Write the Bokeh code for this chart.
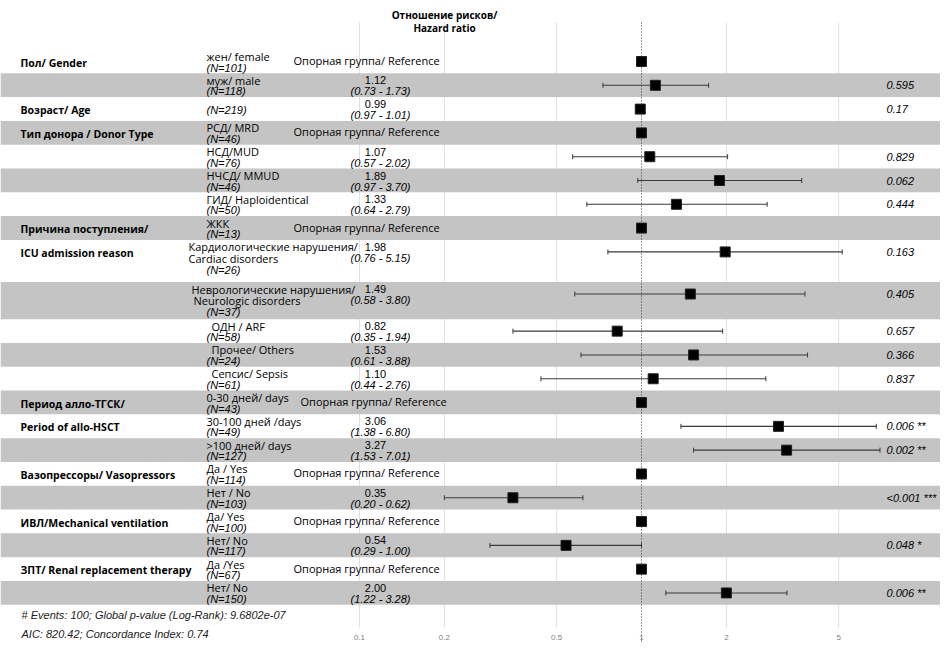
from bokeh.plotting import figure
from bokeh.models import Range1d, ColumnDataSource, FixedTicker, Label, LinearScale
from bokeh.core.properties import value
from bokeh.embed import file_html
from bokeh.resources import INLINE
import numpy as np

# ---------------- data ----------------
variables = ["Пол/ Gender", "", "Возраст/ Age", "Тип донора / Donor Type", "", "", "",
             "Причина поступления/", "ICU admission reason", "", "", "", "",
             "Период алло-ТГСК/", "Period of allo-HSCT", "",
             "Вазопрессоры/ Vasopressors", "", "ИВЛ/Mechanical ventilation", "",
             "ЗПТ/ Renal replacement therapy", ""]
levels = ["жен/ female", "муж/ male", "", "РСД/ MRD", "НСД/MUD", "НЧСД/ MMUD",
          "ГИД/ Haploidentical", "ЖКК",
          "Кардиологические нарушения/\nCardiac disorders",
          "Неврологические нарушения/\nNeurologic disorders",
          "ОДН / ARF", "Прочее/ Others", "Сепсис/ Sepsis",
          "0-30 дней/ days", "30-100 дней /days", ">100 дней/ days",
          "Да / Yes", "Нет / No", "Да/ Yes", "Нет/ No", "Да /Yes", "Нет/ No"]
n_obs = [101, 118, 219, 46, 76, 46, 50, 13, 26, 37, 58, 24, 61, 43, 49, 127,
         114, 103, 100, 117, 67, 150]
is_reference = [True, False, False, True, False, False, False, True, False, False,
                False, False, False, True, False, False, True, False, True, False,
                True, False]
hazard_ratio = [1.0, 1.12, 0.99, 1.0, 1.07, 1.89, 1.33, 1.0, 1.98, 1.49, 0.82, 1.53,
                1.10, 1.0, 3.06, 3.27, 1.0, 0.35, 1.0, 0.54, 1.0, 2.00]
ci_low = [np.nan, 0.73, 0.97, np.nan, 0.57, 0.97, 0.64, np.nan, 0.76, 0.58, 0.35,
          0.61, 0.44, np.nan, 1.38, 1.53, np.nan, 0.20, np.nan, 0.29, np.nan, 1.22]
ci_high = [np.nan, 1.73, 1.01, np.nan, 2.02, 3.70, 2.79, np.nan, 5.15, 3.80, 1.94,
           3.88, 2.76, np.nan, 6.80, 7.01, np.nan, 0.62, np.nan, 1.00, np.nan, 3.28]
p_values = ["", "0.595", "0.17", "", "0.829", "0.062", "0.444", "", "0.163", "0.405",
            "0.657", "0.366", "0.837", "", "0.006 **", "0.002 **", "", "<0.001 ***",
            "", "0.048 *", "", "0.006 **"]
tick_values = [0.1, 0.2, 0.5, 1, 2, 5]
tick_labels = ["0.1", "0.2", "0.5", "1", "2", "5"]
title_lines = ["Отношение рисков/", "Hazard ratio"]
footer_lines = ["# Events: 100; Global p-value (Log-Rank): 9.6802e-07",
                "AIC: 820.42; Concordance Index: 0.74"]
reference_text = "Опорная группа/ Reference"

# ---------------- layout ----------------
FW, FH = 940, 643            # frame size (pixels)
X_ONE, PX_DEC = 641, 282     # pixel of HR=1 and pixels per decade
ROW_H = 23.8
FIRST_TOP = 49
GRID_TOP, GRID_BOTTOM, DOT_BOTTOM = 22, 627, 641
row_mult = [1.0] * len(levels)
row_mult[8] = 1.77
row_mult[9] = 1.56

tops = []
t = FIRST_TOP
for m in row_mult:
    tops.append(t)
    t += ROW_H * m
heights = [ROW_H * m for m in row_mult]
mid = [tp + 12 for tp in tops]

SANS = "Open Sans"
ARIAL = "Liberation Sans"

p = figure(frame_width=FW, frame_height=FH, output_backend="svg", toolbar_location=None,
           x_axis_type="log",
           x_range=Range1d(10 ** ((0 - X_ONE) / PX_DEC), 10 ** ((FW - X_ONE) / PX_DEC)),
           y_range=Range1d(FH, 0),
           y_axis_location=None, min_border_left=0, min_border_right=0,
           min_border_top=0, min_border_bottom=0)
p.extra_x_ranges = {"px": Range1d(0, FW)}
p.extra_x_scales = {"px": LinearScale()}
p.outline_line_color = None
p.background_fill_color = "white"
p.border_fill_color = "white"
p.xgrid.visible = False
p.ygrid.visible = False

# axis (labels pulled up into the bottom of the frame)
ax = p.xaxis[0]
ax.ticker = FixedTicker(ticks=tick_values)
ax.major_label_overrides = {v: s for v, s in zip(tick_values, tick_labels)}
ax.axis_line_color = None
ax.major_tick_line_color = None
ax.minor_tick_line_color = None
ax.major_tick_out = 0
ax.major_tick_in = 0
ax.major_label_text_font = ARIAL
ax.major_label_text_font_size = "8px"
ax.major_label_text_color = "#808080"
ax.major_label_standoff = -9

# vertical grid lines at the tick values (drawn below the bands)
grid_x = [v for v in tick_values if v != 1]
p.segment(x0=grid_x, x1=grid_x, y0=[GRID_TOP] * len(grid_x), y1=[GRID_BOTTOM] * len(grid_x),
          line_color="#e0e0e0", line_width=1)

# bands
band_idx = [i for i in range(len(levels)) if i % 2 == 1]
band_src = ColumnDataSource(dict(
    top=[tops[i] for i in band_idx],
    bottom=[tops[i] + heights[i] for i in band_idx]))
p.quad(left=0, right=FW, top="top", bottom="bottom", source=band_src,
       x_range_name="px", fill_color="#c4c4c4", line_color=None)

# reference line at HR = 1
p.segment(x0=[1], x1=[1], y0=[GRID_TOP], y1=[DOT_BOTTOM], line_color="#333333",
          line_dash="1 2", line_width=1)

# whiskers
ci_idx = [i for i in range(len(levels)) if not is_reference[i]]
ci_src = ColumnDataSource(dict(
    lo=[ci_low[i] for i in ci_idx], hi=[ci_high[i] for i in ci_idx],
    y=[mid[i] for i in ci_idx]))
p.segment(x0="lo", x1="hi", y0="y", y1="y", source=ci_src, line_color="#3a3a3a", line_width=1.1)
p.scatter(x="lo", y="y", source=ci_src, marker="dash", angle=np.pi / 2, size=5,
          line_color="#3a3a3a", line_width=1)
p.scatter(x="hi", y="y", source=ci_src, marker="dash", angle=np.pi / 2, size=5,
          line_color="#3a3a3a", line_width=1)

# markers
pt_src = ColumnDataSource(dict(x=hazard_ratio, y=mid))
p.scatter(x="x", y="y", source=pt_src, marker="square", size=10,
          fill_color="black", line_color="#222222", line_width=1)

# ---------------- text columns ----------------
var_src = ColumnDataSource(dict(
    x=[20] * sum(1 for v in variables if v),
    y=[mid[i] + 1 for i, v in enumerate(variables) if v],
    text=[v for v in variables if v]))
p.text(x="x", y="y", text="text", source=var_src, x_range_name="px",
       text_font=value(SANS), text_font_style="bold", text_font_size="10.5px",
       text_baseline="middle", text_color="black")

level_x = {8: 188, 9: 191, 10: 211, 11: 211, 12: 211}
lx, ly, lt = [], [], []
nx, ny, nt = [], [], []
for i, lev in enumerate(levels):
    x = level_x.get(i, 206)
    if lev == "":
        nx.append(206); ny.append(mid[i] + 1); nt.append(f"(N={n_obs[i]})")
        continue
    lines = lev.split("\n")
    for k, ln in enumerate(lines):
        lx.append(x + (2 * k if i == 9 else 0)); ly.append(mid[i] - 5 + 11.5 * k); lt.append(ln)
    if len(lines) == 1:
        nx.append(206); ny.append(mid[i] + 6); nt.append(f"(N={n_obs[i]})")
    else:
        nx.append(206); ny.append(mid[i] + 18); nt.append(f"(N={n_obs[i]})")

p.text(x="x", y="y", text="text", source=ColumnDataSource(dict(x=lx, y=ly, text=lt)),
       x_range_name="px", text_font=value(SANS), text_font_size="11px",
       text_baseline="middle", text_color="black")
p.text(x="x", y="y", text="text", source=ColumnDataSource(dict(x=nx, y=ny, text=nt)),
       x_range_name="px", text_font=value(ARIAL), text_font_style="italic",
       text_font_size="11px", text_baseline="middle", text_color="black")

# reference labels
ref_src = ColumnDataSource(dict(
    x=[300 if i == 13 else 293 for i in range(len(levels)) if is_reference[i]],
    y=[mid[i] - 1 for i in range(len(levels)) if is_reference[i]],
    text=[reference_text] * sum(is_reference)))
p.text(x="x", y="y", text="text", source=ref_src, x_range_name="px",
       text_font=value(SANS), text_font_size="11px", text_baseline="middle")

# HR and CI
hr_src = ColumnDataSource(dict(
    x=[375] * len(ci_idx), y=[mid[i] - 5 for i in ci_idx],
    text=[f"{hazard_ratio[i]:.2f}" for i in ci_idx]))
p.text(x="x", y="y", text="text", source=hr_src, x_range_name="px",
       text_font=value(ARIAL), text_font_size="11px", text_baseline="middle",
       text_align="center")
ci_txt_src = ColumnDataSource(dict(
    x=[410] * len(ci_idx), y=[mid[i] + 6 for i in ci_idx],
    text=[f"({ci_low[i]:.2f} - {ci_high[i]:.2f})" for i in ci_idx]))
p.text(x="x", y="y", text="text", source=ci_txt_src, x_range_name="px",
       text_font=value(ARIAL), text_font_style="italic", text_font_size="11px",
       text_baseline="middle", text_align="right")

# p-values
pv_idx = [i for i in range(len(levels)) if p_values[i]]
pv_src = ColumnDataSource(dict(
    x=[886] * len(pv_idx),
    y=[mid[i] for i in pv_idx], text=[p_values[i] for i in pv_idx]))
p.text(x="x", y="y", text="text", source=pv_src, x_range_name="px",
       text_font=value(ARIAL), text_font_style="italic", text_font_size="11px",
       text_baseline="middle")

# title and footer
for ln, yy in zip(title_lines, [14, 27]):
    p.add_layout(Label(x=444, y=yy, x_range_name="px", text=ln, text_align="center",
                       text_baseline="middle", text_font=SANS, text_font_style="bold",
                       text_font_size="10px", text_color="black"))
for ln, yy in zip(footer_lines, [614, 633]):
    p.add_layout(Label(x=21, y=yy, x_range_name="px", text=ln, text_align="left",
                       text_baseline="middle", text_font=ARIAL, text_font_style="italic",
                       text_font_size="11px", text_color="#222222"))

open("out.html", "w").write(file_html(p, INLINE))
